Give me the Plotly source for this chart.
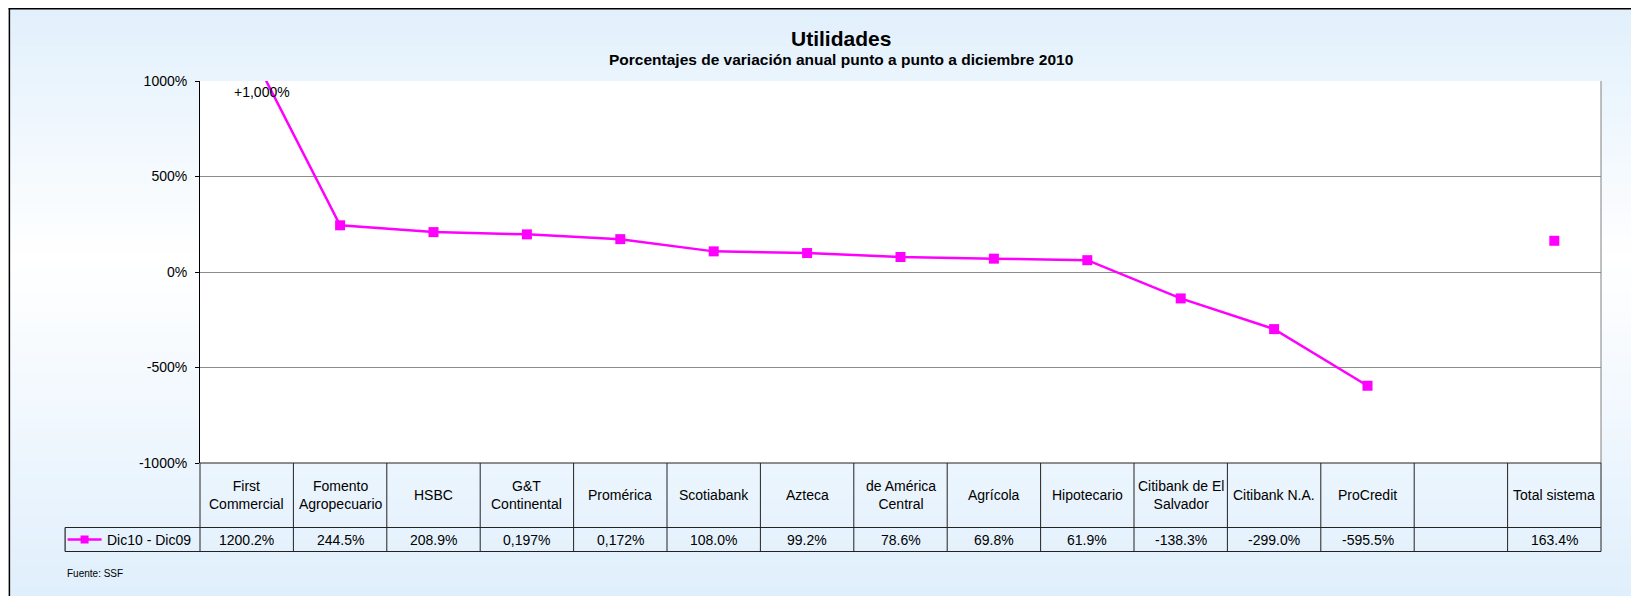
import plotly.graph_objects as go

categories = ["First<br>Commercial", "Fomento<br>Agropecuario", "HSBC", "G&T<br>Continental",
              "Promérica", "Scotiabank", "Azteca", "de América<br>Central", "Agrícola",
              "Hipotecario", "Citibank de El<br>Salvador", "Citibank N.A.", "ProCredit", "",
              "Total sistema"]
values = [1200.2, 244.5, 208.9, 197.0, 172.0, 108.0, 99.2, 78.6, 69.8, 61.9,
          -138.3, -299.0, -595.5, None, 163.4]
value_labels = ["1200.2%", "244.5%", "208.9%", "0,197%", "0,172%", "108.0%", "99.2%",
                "78.6%", "69.8%", "61.9%", "-138.3%", "-299.0%", "-595.5%", "", "163.4%"]
tick_vals = [-1000, -500, 0, 500, 1000]
tick_text = ["-1000%", "-500%", "0%", "500%", "1000%"]
series_name = "Dic10 - Dic09"

OFF = 8  # page body margin
PAGE_W, PAGE_H = 1639, 596
W, H = PAGE_W - OFF, PAGE_H - OFF
# plot area in page pixels
PL, PR, PT, PB = 199.5, 1601.5, 81, 463
ML, MR, MT, MB = PL - OFF, PAGE_W - PR, PT - OFF, PAGE_H - PB
PW, PH = PR - PL, PB - PT
MAG = "#FF00FF"
FONT = "Liberation Sans, Arial, sans-serif"
n = len(categories)
xs = list(range(n))

def px_x(p):  # page px -> paper
    return (p - PL) / PW

def px_y(p):
    return 1 - (p - PT) / PH

shapes = []
# background gradient
top = (225, 240, 252)
mid = (255, 255, 255)
bot = (224, 239, 252)
ystart, ymid, yend = 8, 260, PAGE_H
steps = 60
for i in range(steps):
    y0 = ystart + (yend - ystart) * i / steps
    y1 = ystart + (yend - ystart) * (i + 1) / steps + 0.6
    yc = (y0 + y1) / 2
    if yc < ymid:
        t = (yc - ystart) / (ymid - ystart)
        c = tuple(round(top[k] + (mid[k] - top[k]) * t) for k in range(3))
    else:
        t = (yc - ymid) / (yend - ymid)
        c = tuple(round(mid[k] + (bot[k] - mid[k]) * t) for k in range(3))
    shapes.append(dict(type="rect", xref="paper", yref="paper", layer="below",
                       x0=px_x(9), x1=px_x(PAGE_W), y0=px_y(y1), y1=px_y(y0),
                       fillcolor="rgb(%d,%d,%d)" % c, line=dict(width=0)))
# white plot area
shapes.append(dict(type="rect", xref="paper", yref="paper", layer="below",
                   x0=0, x1=1, y0=0, y1=1, fillcolor="white", line=dict(width=0)))
# outer frame (left & top)
shapes.append(dict(type="line", xref="paper", yref="paper", x0=px_x(8.75), x1=px_x(8.75),
                   y0=px_y(8), y1=px_y(PAGE_H), line=dict(color="black", width=1.5)))
shapes.append(dict(type="line", xref="paper", yref="paper", x0=px_x(8), x1=px_x(PAGE_W),
                   y0=px_y(8.75), y1=px_y(8.75), line=dict(color="black", width=1.5)))
# plot border right
shapes.append(dict(type="line", xref="paper", yref="paper", x0=1, x1=1, y0=0, y1=1,
                   line=dict(color="#808080", width=1)))

# data table
TC = "#222222"
row1_bot = px_y(527.5)
row2_bot = px_y(551.5)
leg_left = px_x(64.5)
shapes.append(dict(type="line", xref="paper", yref="paper", x0=0, x1=1, y0=0, y1=0,
                   line=dict(color=TC, width=1.2)))
shapes.append(dict(type="line", xref="paper", yref="paper", x0=leg_left, x1=1, y0=row1_bot, y1=row1_bot,
                   line=dict(color=TC, width=1.2)))
shapes.append(dict(type="line", xref="paper", yref="paper", x0=leg_left, x1=1, y0=row2_bot, y1=row2_bot,
                   line=dict(color=TC, width=1.2)))
shapes.append(dict(type="line", xref="paper", yref="paper", x0=leg_left, x1=leg_left, y0=row1_bot, y1=row2_bot,
                   line=dict(color=TC, width=1.2)))
for i in range(n + 1):
    xp = i / n
    shapes.append(dict(type="line", xref="paper", yref="paper", x0=xp, x1=xp, y0=0, y1=row2_bot,
                       line=dict(color=TC, width=1)))
# legend key in table
ly = (row1_bot + row2_bot) / 2
shapes.append(dict(type="line", xref="paper", yref="paper", x0=px_x(67), x1=px_x(101), y0=ly, y1=ly,
                   line=dict(color=MAG, width=2.5)))
shapes.append(dict(type="rect", xref="paper", yref="paper", x0=px_x(80), x1=px_x(88),
                   y0=ly - 4 / PH, y1=ly + 4 / PH, fillcolor=MAG, line=dict(width=0)))

TF = dict(size=14, color="black", family=FONT)
annotations = []
for i in range(n):
    annotations.append(dict(x=xs[i], xref="x", y=px_y(495), yref="paper", text=categories[i],
                            xanchor="center", yanchor="middle", showarrow=False, font=TF))
    annotations.append(dict(x=xs[i], xref="x", y=ly, yref="paper",
                            text=value_labels[i], xanchor="center", yanchor="middle",
                            showarrow=False, font=TF))
annotations.append(dict(x=px_x(104), xref="paper", y=ly, yref="paper", text=series_name,
                        xanchor="left", yanchor="middle", showarrow=False, font=TF))
annotations.append(dict(x=px_x(64), xref="paper", y=px_y(573), yref="paper", text="Fuente: SSF",
                        xanchor="left", yanchor="middle", showarrow=False,
                        font=dict(size=10, color="black", family=FONT)))
annotations.append(dict(x=0.16, xref="x", y=945, yref="y", text="+1,000%",
                        xanchor="center", yanchor="middle",
                        showarrow=False, font=dict(size=14, color="black", family=FONT)))
annotations.append(dict(x=px_x(841), xref="paper", xanchor="center", y=px_y(39), yref="paper",
                        yanchor="middle", text="<b>Utilidades</b>", showarrow=False,
                        font=dict(size=21, color="black", family=FONT)))
annotations.append(dict(x=px_x(841), xref="paper", xanchor="center", y=px_y(60), yref="paper",
                        yanchor="middle",
                        text="<b>Porcentajes de variación anual punto a punto a diciembre 2010</b>",
                        showarrow=False, font=dict(size=15.5, color="black", family=FONT)))

fig = go.Figure()
fig.add_trace(go.Scatter(x=xs, y=values, mode="lines+markers", name=series_name,
                         line=dict(color=MAG, width=2.5),
                         marker=dict(symbol="square", size=10, color=MAG),
                         connectgaps=False, showlegend=False))
fig.update_layout(
    width=W, height=H,
    margin=dict(l=ML, r=MR, t=MT, b=MB),
    paper_bgcolor="white", plot_bgcolor="rgba(0,0,0,0)",
    showlegend=False,
    font=dict(family=FONT, color="black"),
    xaxis=dict(range=[-0.5, n - 0.5], showgrid=False, showticklabels=False, ticks="",
               zeroline=False, showline=False, fixedrange=True),
    yaxis=dict(range=[-1000, 1000], tickvals=tick_vals, ticktext=tick_text,
               showgrid=True, gridcolor="#8c8c8c", gridwidth=1,
               zeroline=False, showline=True, linecolor="black", linewidth=1,
               ticks="outside", ticklen=4, tickcolor="black", ticklabelstandoff=5,
               tickfont=dict(size=14, color="black", family=FONT)),
    shapes=shapes, annotations=annotations,
)
fig.write_html("out.html")
